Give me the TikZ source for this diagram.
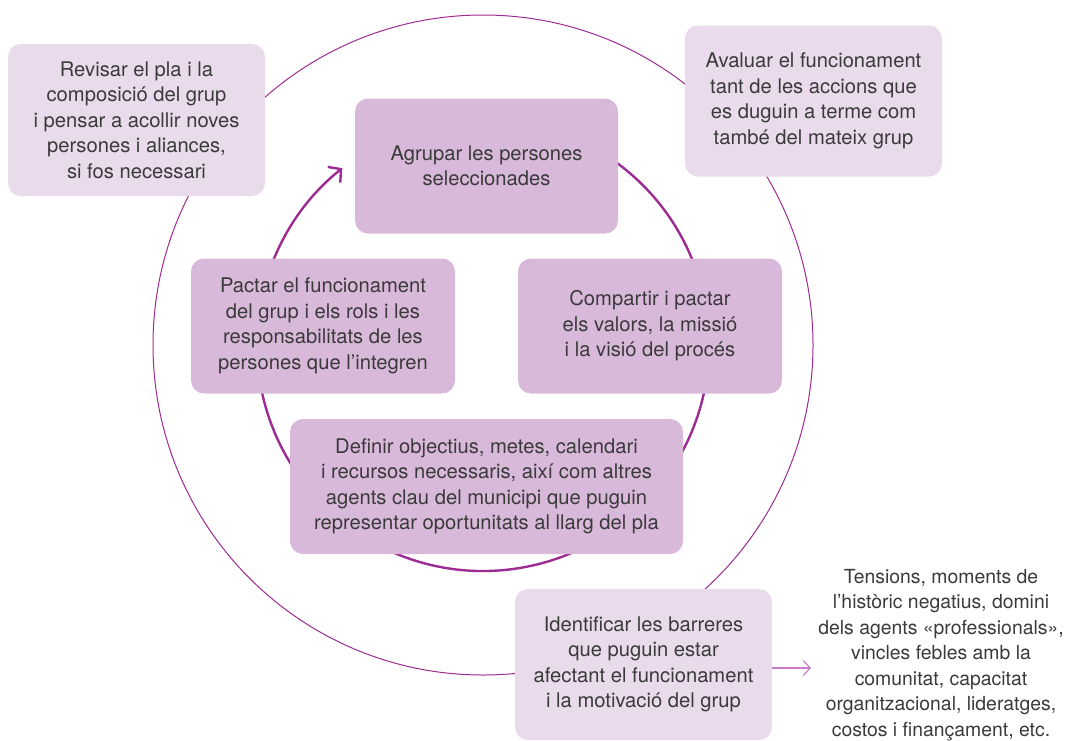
\documentclass[tikz,border=0pt]{standalone}
\usepackage{fontspec}
\setmainfont{TeX Gyre Heros}
\usetikzlibrary{arrows.meta}
\definecolor{boxdark}{HTML}{D8B9D9}
\definecolor{boxlight}{HTML}{E9DBEB}
\definecolor{circ}{HTML}{9E2B91}
\definecolor{arrowc}{HTML}{C77DC6}
\definecolor{txt}{HTML}{3A3A3A}
\begin{document}
\begin{tikzpicture}[x=1pt,y=-1pt,
  every node/.style={font=\fontsize{20.2}{25.5}\selectfont, text=txt, align=center, inner sep=0pt},
  darkbox/.style={fill=boxdark, rounded corners=13pt},
  lightbox/.style={fill=boxlight, rounded corners=13pt},
  outerc/.style={draw=circ, line width=1pt},
  innerc/.style={draw=circ, line width=2.4pt},
]
\useasboundingbox (0,0) rectangle (1067,740);
\coordinate (c) at (483,345);
% circles
\draw[outerc] (c) circle[radius=330];
\draw[innerc, -{Straight Barb[length=9pt,width=20pt,line width=2.4pt]}] (c) ++(-60:226) arc[start angle=-60, end angle=231.5, radius=226];
% boxes
\node[lightbox, minimum width=257pt, minimum height=152pt] (revisar) at (136.5,120) {Revisar el pla i la\\composició del grup\\i pensar a acollir noves\\persones i aliances,\\si fos necessari};
\node[lightbox, minimum width=257pt, minimum height=151pt] (avaluar) at (813.5,101) {Avaluar el funcionament\\tant de les accions que\\es duguin a terme com\\també del mateix grup};
\node[darkbox, minimum width=263pt, minimum height=135pt] (agrupar) at (486.5,166) {Agrupar les persones\\seleccionades};
\node[darkbox, minimum width=264pt, minimum height=135pt] (pactar) at (323,326) {Pactar el funcionament\\del grup i els rols i les\\responsabilitats de les\\persones que l’integren};
\node[darkbox, minimum width=264pt, minimum height=135pt] (compartir) at (650,326) {Compartir i pactar\\els valors, la missió\\i la visió del procés};
\node[darkbox, minimum width=393pt, minimum height=135pt] (definir) at (486.5,486.5) {Definir objectius, metes, calendari\\i recursos necessaris, així com altres\\agents clau del municipi que puguin\\representar oportunitats al llarg del pla};
\node[lightbox, minimum width=257pt, minimum height=151pt] (identificar) at (643.5,664.5) {Identificar les barreres\\que puguin estar\\afectant el funcionament\\i la motivació del grup};
\node[font=\fontsize{19.4}{25.5}\selectfont] (tensions) at (941,655) {Tensions, moments de\\l’històric negatius, domini\\dels agents «professionals»,\\vincles febles amb la\\comunitat, capacitat\\organitzacional, lideratges,\\costos i finançament, etc.};
% arrow to the list
\coordinate (atip) at (811,668);
\draw[arrowc, line width=1.2pt, -{Straight Barb[length=7pt,width=15pt,line width=1.2pt]}] (identificar.east |- atip) -- (atip);
\end{tikzpicture}
\end{document}
